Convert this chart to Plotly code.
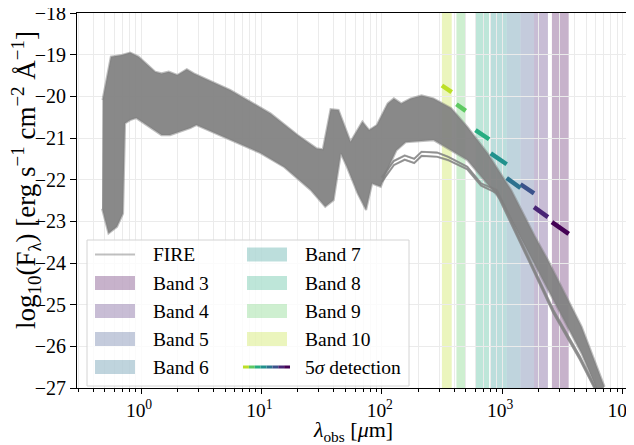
import plotly.graph_objects as go

# ---------------- data ----------------
band_names = ["Band 3", "Band 4", "Band 5", "Band 6", "Band 7", "Band 8", "Band 9", "Band 10"]
band_lo_um = [2590, 1840, 1420, 1090, 804, 600, 417, 316]
band_hi_um = [3570, 2400, 1840, 1420, 1090, 779, 498, 381]
band_colors = ["#440154", "#482475", "#3b528b", "#2c728e", "#21918c", "#27ad81", "#5ec962", "#bddf26"]
# 5-sigma detection limit (log10 F_lambda) at the short / long edge of each band
det_logf_lo = [-23.02, -22.66, -22.11, -21.96, -21.37, -20.81, -20.19, -19.74]
det_logf_hi = [-23.30, -22.90, -22.33, -22.20, -21.63, -21.03, -20.35, -19.90]

# FIRE SED bundle: upper and lower envelope
upper_wl_um = [0.479, 0.562, 0.692, 0.813, 0.955, 1.31, 1.48, 1.70, 2.0, 2.40, 2.75, 5.5, 8.1,
               11.9, 20.0, 28.8, 32.4, 37.6, 43.7, 55.0, 69.0, 78.5, 91.0, 112, 126, 145, 174,
               214, 269, 376, 513, 759, 1189, 1862, 2400, 4570, 7080]
upper_logf = [-20.09, -19.05, -19.01, -18.95, -19.05, -19.41, -19.45, -19.41, -19.49, -19.35,
              -19.45, -19.85, -20.13, -20.41, -20.93, -21.25, -21.27, -20.31, -20.33, -21.09,
              -20.61, -20.81, -20.69, -20.17, -20.05, -20.17, -20.05, -19.98, -20.05, -20.28,
              -20.73, -21.37, -22.25, -23.35, -23.93, -25.53, -26.97]
lower_wl_um = [0.475, 0.537, 0.631, 0.708, 0.736, 0.813, 0.912, 1.48, 1.74, 2.57, 2.88, 9.8,
               15.5, 25.7, 33.9, 39.8, 45.7, 51.3, 63.0, 74.0, 83.0, 98.0, 112, 132, 158, 269,
               513, 977, 1259, 2400, 4570, 6310]
lower_logf = [-22.70, -23.29, -23.13, -22.81, -20.65, -20.57, -20.52, -20.93, -20.93, -20.76,
              -20.69, -21.36, -21.70, -22.25, -22.65, -22.49, -21.37, -21.69, -22.33, -22.73,
              -22.09, -22.17, -21.75, -21.30, -21.10, -21.05, -21.53, -22.49, -23.10, -24.65,
              -26.17, -27.13]
# two faint outlier SEDs below the main bundle
outA_wl_um = [100, 126, 155, 186, 214, 288, 355, 513, 668, 900, 1700, 2660, 4430, 7000]
outA_logf = [-21.95, -21.55, -21.42, -21.50, -21.33, -21.35, -21.45, -21.69, -22.09, -22.25,
             -23.93, -25.13, -26.25, -27.40]
outB_wl_um = [100, 126, 155, 186, 214, 288, 355, 513, 668, 900, 1700, 2660, 4430, 7000]
outB_logf = [-22.05, -21.65, -21.52, -21.60, -21.43, -21.45, -21.53, -21.75, -22.14, -22.32,
             -24.00, -25.20, -26.32, -27.45]

x_tickvals = [1, 10, 100, 1000, 10000]
x_ticktext = ["10<sup>0</sup>", "10<sup>1</sup>", "10<sup>2</sup>", "10<sup>3</sup>", "10<sup>4</sup>"]
y_tickvals = [-18, -19, -20, -21, -22, -23, -24, -25, -26, -27]

x_title = "<i>λ</i><sub>obs</sub> [<i>μ</i>m]"
y_title = "log<sub>10</sub>(F<sub>λ</sub>) [erg s<sup>−1</sup> cm<sup>−2</sup> Å<sup>−1</sup>]"

# ---------------- layout helpers ----------------
# the page body adds an 8 px offset, so the figure is 8 px smaller and positions are shifted
OFF = 8
W, H = 634 - OFF, 445 - OFF
ML, MR, MT, MB = 77 - OFF, 4, 13 - OFF, 57
PW, PH = W - ML - MR, H - MT - MB
FONT = "Liberation Serif"
GREY_LINE = "rgba(128,128,128,0.5)"


def rgba(hexc, a):
    h = hexc.lstrip("#")
    return "rgba(%d,%d,%d,%s)" % (int(h[0:2], 16), int(h[2:4], 16), int(h[4:6], 16), a)


def px(xp):  # screenshot pixel -> paper
    return (xp - OFF - ML) / PW


def py(yp):
    return (H - MB - (yp - OFF)) / PH


fig = go.Figure()

# bundle fill
fig.add_trace(go.Scatter(
    x=upper_wl_um + lower_wl_um[::-1], y=upper_logf + lower_logf[::-1],
    mode="lines", fill="toself", fillcolor="rgba(128,128,128,0.93)",
    line=dict(width=0), hoverinfo="skip", showlegend=False))
# soft edges
for xs, ys in [(upper_wl_um, upper_logf), (lower_wl_um, lower_logf),
               (outA_wl_um, outA_logf), (outB_wl_um, outB_logf)]:
    fig.add_trace(go.Scatter(x=xs, y=ys, mode="lines", line=dict(color=GREY_LINE, width=2.2),
                             showlegend=False, hoverinfo="skip"))
for xs, ys in [(outA_wl_um, outA_logf), (outB_wl_um, outB_logf)]:
    fig.add_trace(go.Scatter(x=xs, y=ys, mode="lines", line=dict(color="rgba(128,128,128,0.75)", width=1.6),
                             showlegend=False, hoverinfo="skip"))

# 5 sigma detection segments
for lo, hi, ylo, yhi, c in zip(band_lo_um, band_hi_um, det_logf_lo, det_logf_hi, band_colors):
    fig.add_trace(go.Scatter(x=[lo, hi], y=[ylo, yhi], mode="lines",
                             line=dict(color=c, width=4.5), showlegend=False, hoverinfo="skip"))

shapes = []
for lo, hi, c in zip(band_lo_um, band_hi_um, band_colors):
    shapes.append(dict(type="rect", xref="x", yref="paper", x0=lo, x1=hi, y0=0, y1=1,
                       fillcolor=rgba(c, 0.3), line=dict(width=0), layer="between"))

# manual legend (two columns)
shapes.append(dict(type="rect", xref="paper", yref="paper", x0=px(87), x1=px(409), y0=py(386), y1=py(240),
                   fillcolor="rgba(255,255,255,0.8)", line=dict(color="#d4d4d4", width=1), layer="above"))
rows = [254.5, 283, 311, 339, 367]
annotations = []
col1 = ["FIRE"] + band_names[:4]
col2 = band_names[4:] + ["5<i>σ</i> detection"]
for i, lab in enumerate(col1):
    yc = rows[i]
    if i == 0:
        shapes.append(dict(type="line", xref="paper", yref="paper", x0=px(95), x1=px(135), y0=py(yc), y1=py(yc),
                           line=dict(color=GREY_LINE, width=2), layer="above"))
    else:
        shapes.append(dict(type="rect", xref="paper", yref="paper", x0=px(95), x1=px(135), y0=py(yc + 7),
                           y1=py(yc - 7), fillcolor=rgba(band_colors[i - 1], 0.3), line=dict(width=0), layer="above"))
    annotations.append(dict(x=px(151), y=py(yc), xref="paper", yref="paper", text=lab, showarrow=False,
                            xanchor="left", yanchor="middle", font=dict(family=FONT, size=19.5, color="black")))
for i, lab in enumerate(col2):
    yc = rows[i]
    if i < 4:
        shapes.append(dict(type="rect", xref="paper", yref="paper", x0=px(247), x1=px(287), y0=py(yc + 7),
                           y1=py(yc - 7), fillcolor=rgba(band_colors[4 + i], 0.3), line=dict(width=0), layer="above"))
    else:
        seg = (290 - 243) / len(band_colors)
        for k, c in enumerate(band_colors[::-1]):
            shapes.append(dict(type="line", xref="paper", yref="paper", x0=px(243 + k * seg), x1=px(243 + (k + 1) * seg),
                               y0=py(yc), y1=py(yc), line=dict(color=c, width=3), layer="above"))
    annotations.append(dict(x=px(303), y=py(yc), xref="paper", yref="paper", text=lab, showarrow=False,
                            xanchor="left", yanchor="middle", font=dict(family=FONT, size=19.5, color="black")))

# y-axis title (placed like the reference, slightly above the axis centre)
annotations.append(dict(x=px(26), y=py(180), xref="paper", yref="paper", text=y_title, textangle=-90,
                        showarrow=False, xanchor="center", yanchor="middle",
                        font=dict(family=FONT, size=27, color="black")))

minor_vals = [m * 10 ** e for e in range(-1, 5) for m in range(2, 10)]

fig.update_layout(
    width=W, height=H, margin=dict(l=ML, r=MR, t=MT, b=MB, autoexpand=False),
    paper_bgcolor="white", plot_bgcolor="white",
    shapes=shapes, annotations=annotations, showlegend=False,
    font=dict(family=FONT, size=20, color="black"),
    xaxis=dict(type="log", range=[-0.532, 4.062], tickvals=x_tickvals, ticktext=x_ticktext,
               automargin=False, ticklabeloverflow="allow", ticklabelshift=-2,
               ticks="outside", ticklen=5, tickwidth=1, tickcolor="black",
               showline=True, linecolor="black", linewidth=1, mirror=True,
               showgrid=True, gridcolor="#ebebeb", gridwidth=1, zeroline=False,
               minor=dict(tickvals=minor_vals, ticks="outside", ticklen=2.5, tickcolor="black",
                          showgrid=True, gridcolor="#ebebeb", gridwidth=1),
               tickfont=dict(family=FONT, size=19.5),
               title=dict(text=x_title, font=dict(family=FONT, size=22), standoff=4)),
    yaxis=dict(range=[-27, -18], tickvals=y_tickvals, ticks="outside", ticklen=6, tickwidth=1,
               automargin=False, ticklabeloverflow="allow",
               tickcolor="black", showline=True, linecolor="black", linewidth=1, mirror=True,
               showgrid=True, gridcolor="#ebebeb", gridwidth=1, zeroline=False,
               tickfont=dict(family=FONT, size=20)),
)

fig.write_html("out.html")
